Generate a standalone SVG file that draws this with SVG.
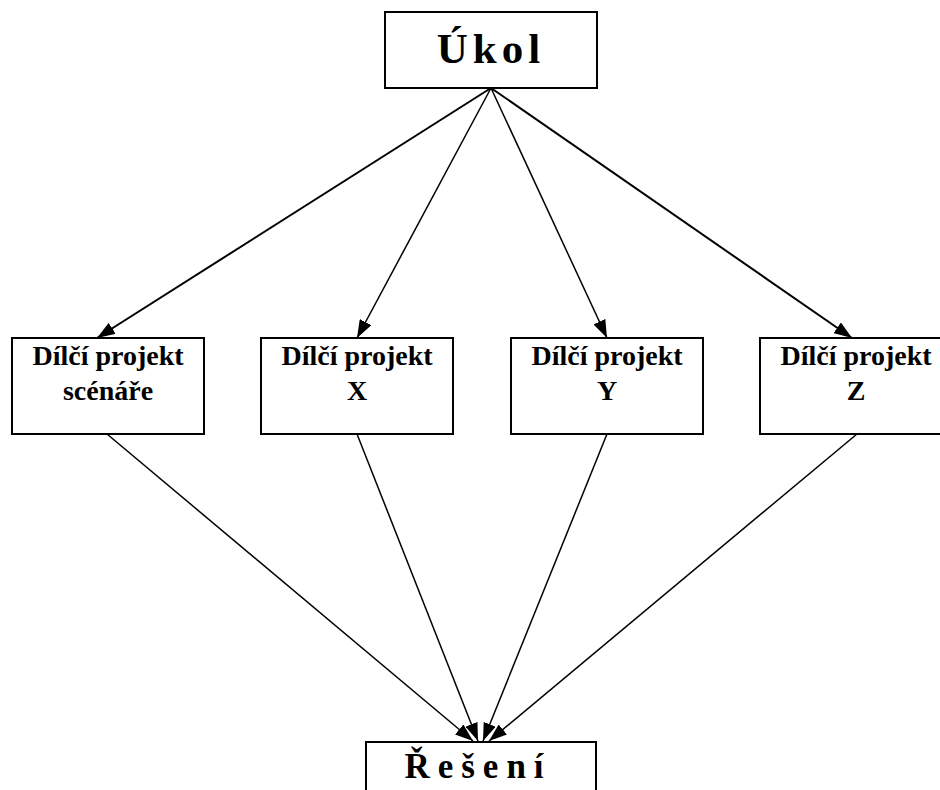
<svg xmlns="http://www.w3.org/2000/svg" width="940" height="790" viewBox="0 0 940 790">
<defs>
<style>
.box{fill:#fff;stroke:#000;stroke-width:2}
.t{font-family:"Liberation Serif","Times New Roman",serif;font-weight:bold;fill:#000;text-anchor:middle}
.s{font-size:28px}
.c{stroke:#000;fill:none}
</style>
<marker id="ah" viewBox="0 0 18 13" refX="18" refY="6.5" markerWidth="18" markerHeight="13" markerUnits="userSpaceOnUse" orient="auto">
<path d="M0,0 L18,6.5 L0,13 Z" fill="#000"/>
</marker>
</defs>
<rect width="940" height="790" fill="#fff"/>
<g id="connectors">
<line class="c" stroke-width="2" x1="491" y1="88" x2="97" y2="338" marker-end="url(#ah)"/>
<line class="c" stroke-width="1.5" x1="491" y1="88" x2="357" y2="338" marker-end="url(#ah)"/>
<line class="c" stroke-width="1.5" x1="491" y1="88" x2="607" y2="338" marker-end="url(#ah)"/>
<line class="c" stroke-width="2" x1="491" y1="88" x2="852" y2="338" marker-end="url(#ah)"/>
<line class="c" stroke-width="1.5" x1="107" y1="434" x2="473" y2="741" marker-end="url(#ah)"/>
<line class="c" stroke-width="1.5" x1="357" y1="434" x2="478" y2="741" marker-end="url(#ah)"/>
<line class="c" stroke-width="1.5" x1="607" y1="434" x2="483" y2="741" marker-end="url(#ah)"/>
<line class="c" stroke-width="1.5" x1="857" y1="434" x2="489" y2="741" marker-end="url(#ah)"/>
</g>
<g id="ukol">
<rect class="box" x="385" y="12" width="212" height="76"/>
<text class="t" font-family="Liberation Serif, serif" x="491" y="63" font-size="43" letter-spacing="5">Úkol</text>
</g>
<g id="scenare">
<rect class="box" x="12" y="338" width="192" height="96"/>
<text class="t s" font-family="Liberation Serif, serif" x="108" y="365">Dílčí projekt</text>
<text class="t s" font-family="Liberation Serif, serif" x="108" y="400">scénáře</text>
</g>
<g id="x">
<rect class="box" x="261" y="338" width="192" height="96"/>
<text class="t s" font-family="Liberation Serif, serif" x="357" y="365">Dílčí projekt</text>
<text class="t s" font-family="Liberation Serif, serif" x="357" y="400">X</text>
</g>
<g id="y">
<rect class="box" x="511" y="338" width="192" height="96"/>
<text class="t s" font-family="Liberation Serif, serif" x="607" y="365">Dílčí projekt</text>
<text class="t s" font-family="Liberation Serif, serif" x="607" y="400">Y</text>
</g>
<g id="z">
<rect class="box" x="760" y="338" width="192" height="96"/>
<text class="t s" font-family="Liberation Serif, serif" x="856" y="365">Dílčí projekt</text>
<text class="t s" font-family="Liberation Serif, serif" x="856" y="400">Z</text>
</g>
<g id="reseni">
<rect class="box" x="366" y="742" width="230" height="70"/>
<text class="t" font-family="Liberation Serif, serif" x="478" y="778" font-size="35" letter-spacing="8">Řešení</text>
</g>
</svg>
